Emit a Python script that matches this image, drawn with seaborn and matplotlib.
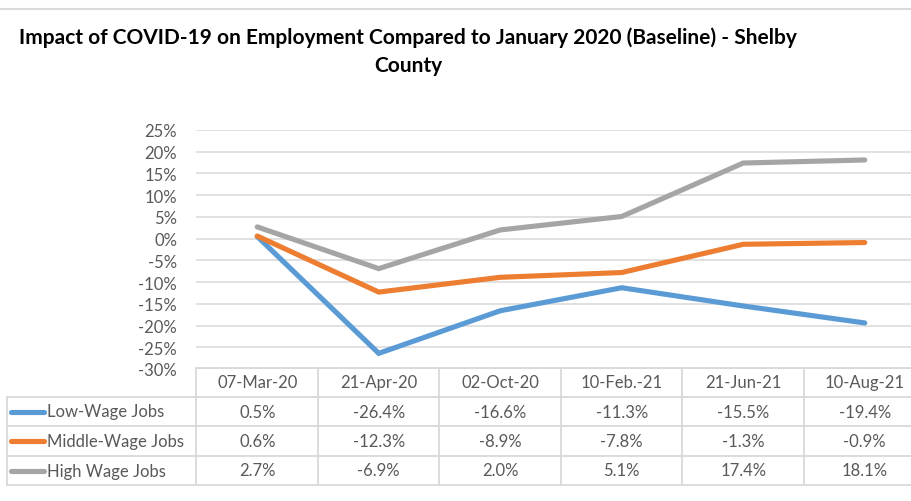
import matplotlib
matplotlib.use("Agg")
import matplotlib.pyplot as plt
from matplotlib.lines import Line2D
import matplotlib.ticker as mticker
import seaborn as sns
import pandas as pd

# Data
dates = ["07-Mar-20", "21-Apr-20", "02-Oct-20", "10-Feb.-21", "21-Jun-21", "10-Aug-21"]
series_names = ["Low-Wage Jobs", "Middle-Wage Jobs", "High Wage Jobs"]
low_wage = [0.5, -26.4, -16.6, -11.3, -15.5, -19.4]
middle_wage = [0.6, -12.3, -8.9, -7.8, -1.3, -0.9]
high_wage = [2.7, -6.9, 2.0, 5.1, 17.4, 18.1]
colors = ["#5B9BD5", "#ED7D31", "#A5A5A5"]
title_lines = ["Impact of COVID-19 on Employment Compared to January 2020 (Baseline) - Shelby",
               "County"]

values = [low_wage, middle_wage, high_wage]
rows = []
for name, vals in zip(series_names, values):
    for i, (d, v) in enumerate(zip(dates, vals)):
        rows.append({"pos": i, "date": d, "series": name, "value": v / 100.0})
df = pd.DataFrame(rows)

sns.set_theme(style="white")
plt.rcParams["font.family"] = ["Lato", "DejaVu Sans"]

W, H = 912, 502
fig = plt.figure(figsize=(W / 100, H / 100), dpi=100)

def fx(px):
    return px / W

def fy(py):
    return 1 - py / H

# Plot area geometry in pixels
left_px, col_w = 196.5, 121.5
top_px, bot_px = 131, 370
ax = fig.add_axes([fx(left_px), fy(bot_px), fx(col_w * 6), (bot_px - top_px) / H])

sns.lineplot(data=df, x="pos", y="value", hue="series", hue_order=series_names,
             palette=colors, linewidth=3.7, legend=False, ax=ax,
             solid_capstyle="round", solid_joinstyle="miter")

ax.set_xlim(-0.5, 5.5)
ax.set_ylim(-0.30, 0.25)
ax.yaxis.set_major_locator(mticker.MultipleLocator(0.05))
ax.yaxis.set_major_formatter(mticker.FuncFormatter(lambda v, p: f"{round(v * 100):d}%"))
ax.grid(axis="y", color="#D9D9D9", linewidth=1.1)
ax.set_axisbelow(True)
for s in ax.spines.values():
    s.set_visible(False)
ax.set_xticks([])
ax.set_xlabel("")
ax.set_ylabel("")
ax.tick_params(axis="y", length=0, pad=14, labelsize=12, labelcolor="#595959")
for lbl in ax.get_yticklabels():
    lbl.set_horizontalalignment("right")

# Top border of the chart area
fig.add_artist(Line2D([0, 1], [fy(9.5), fy(9.5)], color="#D9D9D9", linewidth=1.5))

# Title, wrapped onto two centred lines
for k, line in enumerate(title_lines):
    fig.text(fx(408), fy(38 + 28 * k), line, ha="center", va="center", fontsize=15,
             fontweight="bold", color="black")

# Data table
grid_c = "#D9D9D9"
table_left = 7
header_top, header_bot = 369, 398
row_bounds = [398, 427, 457, 486]
right_px = left_px + col_w * 6

def hline(y, x0, x1):
    fig.add_artist(Line2D([fx(x0), fx(x1)], [fy(y), fy(y)], color=grid_c, linewidth=1.3))

def vline(x, y0, y1):
    fig.add_artist(Line2D([fx(x), fx(x)], [fy(y0), fy(y1)], color=grid_c, linewidth=1.3))

hline(header_top, left_px, right_px)
for y in row_bounds:
    hline(y, table_left, right_px)
for i in range(7):
    vline(left_px + col_w * i, header_top, row_bounds[-1])
vline(table_left, row_bounds[0], row_bounds[-1])

text_c = "#595959"
for i, d in enumerate(dates):
    cx = left_px + col_w * (i + 0.5)
    fig.text(fx(cx), fy((header_top + header_bot) / 2), d, ha="center", va="center",
             fontsize=12, color=text_c)

for r, (name, vals, c) in enumerate(zip(series_names, values, colors)):
    cy = (row_bounds[r] + row_bounds[r + 1]) / 2
    fig.add_artist(Line2D([fx(11), fx(44)], [fy(cy), fy(cy)], color=c, linewidth=3.7,
                          solid_capstyle="round"))
    fig.text(fx(47), fy(cy), name, ha="left", va="center", fontsize=12, color=text_c)
    for i, v in enumerate(vals):
        cx = left_px + col_w * (i + 0.5)
        fig.text(fx(cx), fy(cy), f"{v:.1f}%", ha="center", va="center",
                 fontsize=12, color=text_c)

fig.savefig("out.png", dpi=100)
